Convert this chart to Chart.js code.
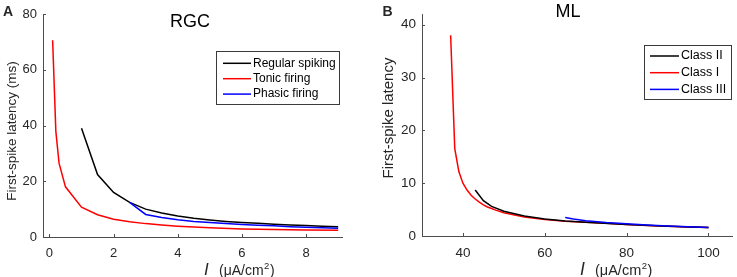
<!DOCTYPE html>
<html>
<head>
<meta charset="utf-8">
<script src="https://cdn.jsdelivr.net/npm/chart.js@4.4.1/dist/chart.umd.min.js"></script>
<style>
  html, body { margin: 0; padding: 0; background: #fff; }
  #wrap { position: relative; width: 737px; height: 277px; }
  canvas { position: absolute; top: 0; }
  #ca { left: 0; }
  #cb { left: 370px; }
</style>
</head>
<body>
<div id="wrap">
  <canvas id="ca" width="370" height="277"></canvas>
  <canvas id="cb" width="367" height="277"></canvas>
</div>
<script>
// Panel A — RGC, latency in ms vs I
const rgcRegularX = [1, 1.5, 2, 2.5, 3, 3.5, 4, 4.5, 5, 5.5, 6, 6.5, 7, 7.5, 8, 8.5, 9];
const rgcRegularY = [39, 22.4, 16, 12.4, 10, 8.6, 7.5, 6.7, 6.1, 5.6, 5.2, 4.9, 4.6, 4.3, 4.1, 3.9, 3.7];
const rgcTonicX = [0.1, 0.2, 0.3, 0.5, 1, 1.5, 2, 2.5, 3, 3.5, 4, 5, 6, 7, 8, 9];
const rgcTonicY = [70.6, 38, 26.5, 18, 10.7, 8, 6.4, 5.5, 4.8, 4.3, 3.9, 3.3, 2.9, 2.7, 2.5, 2.4];
const rgcPhasicX = [2.5, 3, 3.5, 4, 4.5, 5, 5.5, 6, 6.5, 7, 7.5, 8, 8.5, 9];
const rgcPhasicY = [12.4, 8.1, 7.0, 6.2, 5.6, 5.2, 4.8, 4.5, 4.2, 4.0, 3.7, 3.5, 3.3, 3.1];
const rgcXTicks = [0, 2, 4, 6, 8];
const rgcYTicks = [0, 20, 40, 60, 80];

// Panel B — ML
const mlClass2X = [43, 45, 47, 50, 55, 60, 65, 70, 80, 90, 100];
const mlClass2Y = [8.7, 6.7, 5.6, 4.7, 3.8, 3.2, 2.85, 2.6, 2.2, 1.85, 1.6];
const mlClass1X = [37, 38, 39, 40, 41, 42, 43, 44, 45, 46, 47, 48, 50, 55, 60, 65, 70, 75, 80, 85, 90, 95, 100];
const mlClass1Y = [38, 16.6, 12.2, 10, 8.7, 7.7, 7.0, 6.4, 5.9, 5.5, 5.2, 4.9, 4.4, 3.6, 3.1, 2.8, 2.6, 2.4, 2.2, 2.0, 1.85, 1.7, 1.6];
const mlClass3X = [65, 67, 70, 75, 80, 85, 90, 95, 100];
const mlClass3Y = [3.5, 3.2, 2.9, 2.55, 2.3, 2.1, 1.9, 1.75, 1.6];
const mlXTicks = [40, 60, 80, 100];
const mlYTicks = [0, 10, 20, 30, 40];

const TXT = "#262626";
const AXIS = "#4d4d4d";
const FONT = "Arial, 'Liberation Sans', sans-serif";

const pts = (xs, ys) => xs.map((x, i) => ({ x, y: ys[i] }));
const line = (label, xs, ys, color, order) => ({
  label, data: pts(xs, ys), borderColor: color, backgroundColor: color,
  borderWidth: 1.5, pointRadius: 0, showLine: true, tension: 0, order,
});

// axes, inward ticks, titles, legend — MATLAB look
function decor(cfg) {
  return {
    id: "decor",
    afterDraw(chart) {
      const { ctx, chartArea: a, scales: { x, y } } = chart;
      ctx.save();
      ctx.strokeStyle = AXIS;
      ctx.lineWidth = 1;
      ctx.beginPath();
      ctx.moveTo(a.left + 0.5, a.top);
      ctx.lineTo(a.left + 0.5, a.bottom + 0.5);
      ctx.lineTo(a.right, a.bottom + 0.5);
      x.ticks.forEach((t) => {
        const p = Math.round(x.getPixelForValue(t.value)) + 0.5;
        ctx.moveTo(p, a.bottom); ctx.lineTo(p, a.bottom - 3);
      });
      y.ticks.forEach((t) => {
        const p = Math.round(y.getPixelForValue(t.value)) + 0.5;
        ctx.moveTo(a.left, p); ctx.lineTo(a.left + 3, p);
      });
      ctx.stroke();

      ctx.fillStyle = TXT;
      ctx.textBaseline = "middle";
      // panel letter
      ctx.font = `bold 14px ${FONT}`;
      ctx.textAlign = "left";
      ctx.fillText(cfg.letter, cfg.letterX, 12.5);
      // title
      ctx.font = `18px ${FONT}`;
      ctx.textAlign = "center";
      ctx.fillStyle = "#000";
      ctx.fillText(cfg.title, cfg.titleX, cfg.titleY);
      // y title
      ctx.fillStyle = TXT;
      ctx.save();
      ctx.translate(cfg.yTitleX, cfg.yTitleY);
      ctx.rotate(-Math.PI / 2);
      ctx.font = `${cfg.yTitleSize}px ${FONT}`;
      ctx.fillText(cfg.yTitle, 0, 0);
      ctx.restore();
      // x title: I (μA/cm²)
      ctx.textBaseline = "alphabetic";
      ctx.textAlign = "left";
      let px = cfg.xTitleX;
      ctx.font = `italic ${cfg.xTitleSize + 3}px ${FONT}`;
      ctx.fillText("I", px, 275);
      px += 15;
      ctx.font = `${cfg.xTitleSize}px ${FONT}`;
      ctx.fillText("(μA/cm", px, 274.5);
      px += ctx.measureText("(μA/cm").width;
      ctx.font = `9.5px ${FONT}`;
      ctx.fillText("2", px + 0.5, 268.5);
      px += ctx.measureText("2").width + 1;
      ctx.font = `${cfg.xTitleSize}px ${FONT}`;
      ctx.fillText(")", px, 274.5);

      // legend box
      const L = cfg.legend;
      ctx.fillStyle = "#fff";
      ctx.fillRect(L.x, L.y, L.w, L.h);
      ctx.strokeStyle = "#3a3a3a";
      ctx.strokeRect(L.x + 0.5, L.y + 0.5, L.w, L.h);
      ctx.font = `${L.size}px ${FONT}`;
      ctx.textBaseline = "middle";
      chart.data.datasets.forEach((d, i) => {
        const ry = L.rowY + i * L.rowH;
        ctx.strokeStyle = d.borderColor;
        ctx.lineWidth = 1.5;
        ctx.beginPath();
        ctx.moveTo(L.lineX0, ry); ctx.lineTo(L.lineX1, ry);
        ctx.stroke();
        ctx.fillStyle = "#000";
        ctx.fillText(d.label, L.textX, ry);
      });
      ctx.restore();
    },
  };
}

function makeChart(id, datasets, xr, yr, xTicks, yTicks, box, tickSize, cfg) {
  new Chart(document.getElementById(id), {
    type: "scatter",
    data: { datasets },
    options: {
      responsive: false, animation: false, devicePixelRatio: 1,
      layout: { padding: { left: 0, top: box.top, right: box.right, bottom: 0 } },
      plugins: { legend: { display: false }, tooltip: { enabled: false } },
      scales: {
        x: {
          type: "linear", min: xr[0], max: xr[1],
          grid: { display: false, drawTicks: false }, border: { display: false },
          afterBuildTicks: (s) => { s.ticks = xTicks.map((v) => ({ value: v })); },
          afterFit: (s) => { s.height = box.xh; },
          ticks: { color: TXT, font: { family: FONT, size: tickSize }, padding: 9, maxRotation: 0 },
        },
        y: {
          type: "linear", min: yr[0], max: yr[1],
          grid: { display: false, drawTicks: false }, border: { display: false },
          afterBuildTicks: (s) => { s.ticks = yTicks.map((v) => ({ value: v })); },
          afterFit: (s) => { s.width = box.yw; },
          ticks: { color: TXT, font: { family: FONT, size: tickSize }, padding: 6 },
        },
      },
    },
    plugins: [decor(cfg)],
  });
}

makeChart("ca",
  [
    line("Regular spiking", rgcRegularX, rgcRegularY, "#000000", 1),
    line("Tonic firing", rgcTonicX, rgcTonicY, "#ff0000", 2),
    line("Phasic firing", rgcPhasicX, rgcPhasicY, "#0000ff", 0),
  ],
  [-0.2, 9.15], [0, 80], rgcXTicks, rgcYTicks,
  { top: 14, right: 27, xh: 40, yw: 43 }, 13,
  {
    letter: "A", letterX: 3, title: "RGC", titleX: 190, titleY: 22.5,
    yTitle: "First-spike latency (ms)", yTitleX: 12.5, yTitleY: 131, yTitleSize: 13.5,
    xTitleX: 204, xTitleSize: 14,
    legend: { x: 216, y: 51, w: 123, h: 53, size: 12, rowY: 63.3, rowH: 15.4, lineX0: 223, lineX1: 251, textX: 253 },
  });

makeChart("cb",
  [
    line("Class II", mlClass2X, mlClass2Y, "#000000", 1),
    line("Class I", mlClass1X, mlClass1Y, "#ff0000", 2),
    line("Class III", mlClass3X, mlClass3Y, "#0000ff", 0),
  ],
  [30, 106], [0, 42], mlXTicks, mlYTicks,
  { top: 3, right: 4, xh: 41, yw: 52 }, 13.5,
  {
    letter: "B", letterX: 12.5, title: "ML", titleX: 198, titleY: 12.5,
    yTitle: "First-spike latency", yTitleX: 19, yTitleY: 118, yTitleSize: 15,
    xTitleX: 210, xTitleSize: 14.5,
    legend: { x: 274, y: 45, w: 87, h: 54, size: 12.5, rowY: 56, rowH: 16.7, lineX0: 280, lineX1: 309, textX: 311 },
  });
</script>
</body>
</html>
